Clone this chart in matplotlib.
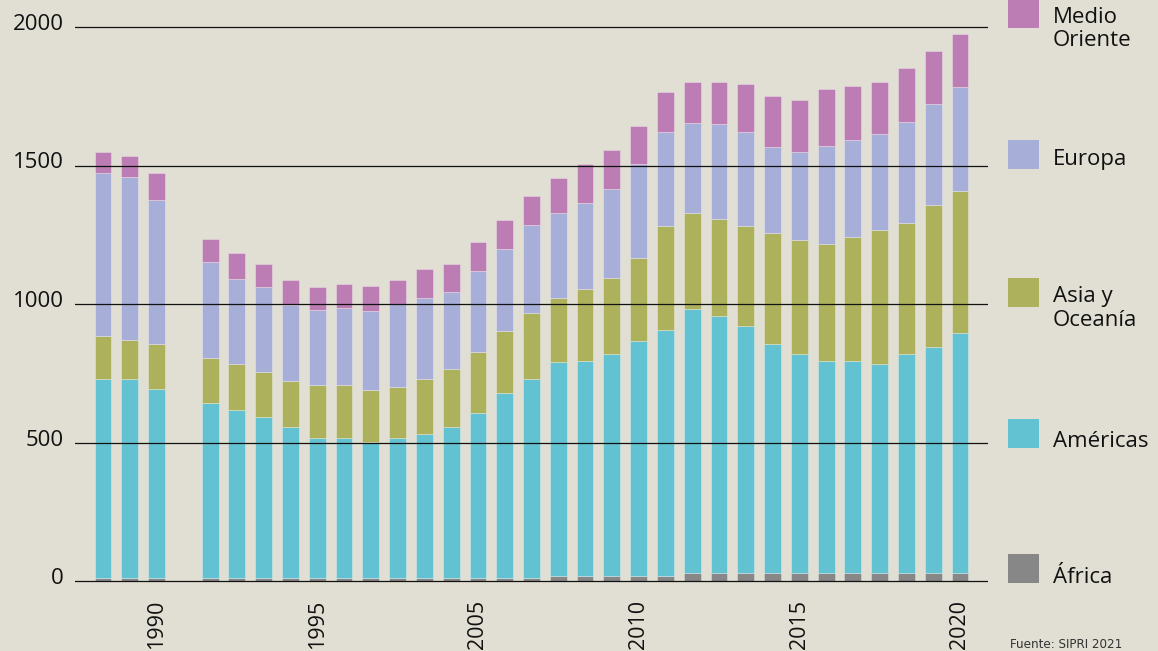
import matplotlib
matplotlib.use('Agg')
import matplotlib.pyplot as plt
from matplotlib.patches import Rectangle
import matplotlib.transforms as mtransforms

# ---------------- data ----------------
years = [1988, 1989, 1990] + list(range(1992, 2021))
africa = [12, 12, 12, 12, 12, 12, 12, 12, 12, 12, 12, 12, 12, 12, 12, 12,
          19, 19, 19, 19, 19, 30, 30, 30, 30, 30, 30, 30, 30, 30, 30, 30]
americas = [719, 719, 680, 631, 605, 580, 543, 505, 505, 489, 505, 519, 543, 593,
            668, 719, 770, 775, 799, 849, 888, 953, 928, 889, 827, 789, 764, 764,
            752, 789, 815, 867]
asia_oceania = [155, 139, 163, 163, 166, 164, 168, 189, 189, 188, 184, 197, 209, 223,
                223, 235, 233, 261, 275, 299, 374, 346, 348, 362, 399, 413, 423, 448,
                486, 472, 512, 511]
europe = [588, 587, 519, 345, 307, 304, 273, 273, 279, 286, 300, 293, 278, 290,
          297, 318, 305, 311, 323, 338, 341, 326, 343, 341, 312, 318, 353, 350,
          345, 367, 365, 375]
middle_east = [75, 77, 100, 84, 95, 85, 89, 81, 87, 89, 84, 105, 103, 105,
               105, 105, 128, 139, 140, 136, 145, 147, 154, 172, 184, 188, 207, 194,
               187, 193, 191, 190]

series = [africa, americas, asia_oceania, europe, middle_east]
region_labels = ['África', 'Américas', 'Asia y\nOceanía', 'Europa', 'Medio\nOriente']
colors = ['#878787', '#63c2d1', '#adb15c', '#a7aed8', '#bb7db3']

y_ticks = [0, 500, 1000, 1500, 2000]
x_tick_years = [1990, 1996, 2002, 2008, 2014, 2020]
x_tick_labels = ['1990', '1995', '2005', '2010', '2015', '2020']
source_text = 'Fuente: SIPRI 2021'

# ---------------- figure ----------------
W, H = 1158, 651
BG = '#e1dfd3'
plt.rcParams['font.family'] = ['Open Sans', 'DejaVu Sans']

fig = plt.figure(figsize=(W / 100, H / 100), dpi=100, facecolor=BG)

ylo, yhi = -20, 2020
px_per_unit = (581 - 27) / 2000
bot_px = 581 + (0 - ylo) * px_per_unit
top_px = 27 - (yhi - 2000) * px_per_unit
ax = fig.add_axes([75 / W, 1 - bot_px / H, 913 / W, (bot_px - top_px) / H])
ax.set_facecolor(BG)

bottom = [0] * len(years)
for vals, col in zip(series, colors):
    ax.bar(years, vals, bottom=bottom, width=0.63, color=col,
           edgecolor=(1, 1, 1, 0.35), linewidth=0.6, zorder=2)
    bottom = [b + v for b, v in zip(bottom, vals)]

for yv in y_ticks:
    ax.axhline(yv, color='#111111', lw=0.9, zorder=3)

ppy = (960 - 103) / 32
ax.set_xlim(1988 - 28 / ppy, 2020 + 28 / ppy)
ax.set_ylim(ylo, yhi)

for s in ax.spines.values():
    s.set_visible(False)

ax.set_yticks(y_ticks)
ax.set_yticklabels([str(v) for v in y_ticks], fontsize=16, color='#111111')
ax.tick_params(axis='y', length=0, pad=8)
off = mtransforms.ScaledTranslation(0, 5 / 100, fig.dpi_scale_trans)
for lbl in ax.get_yticklabels():
    lbl.set_transform(lbl.get_transform() + off)

ax.set_xticks(x_tick_years)
ax.set_xticklabels(x_tick_labels, rotation=90, fontsize=15.5, color='#111111')
ax.tick_params(axis='x', length=0, pad=9.5)

# ---------------- legend (pixel overlay) ----------------
lax = fig.add_axes([0, 0, 1, 1], facecolor='none')
lax.set_xlim(0, W)
lax.set_ylim(H, 0)
lax.axis('off')

sq_tops = [554, 419, 278, 140, -1]
baselines = [[583], [447], [302, 326], [165], [23, 46]]
for lab, col, top, bls in zip(region_labels, colors, sq_tops, baselines):
    lax.add_patch(Rectangle((1008, top), 31, 29, facecolor=col, edgecolor='none'))
    for line, bl in zip(lab.split('\n'), bls):
        lax.text(1053, bl, line, fontsize=16, color='#111111', va='baseline', ha='left')

lax.text(1010, 648, source_text, fontsize=9.5, color='#333333', va='baseline', ha='left',
         family=['Liberation Sans Narrow', 'DejaVu Sans'], fontstretch='condensed')

fig.savefig('out.png', dpi=100, facecolor=BG)
